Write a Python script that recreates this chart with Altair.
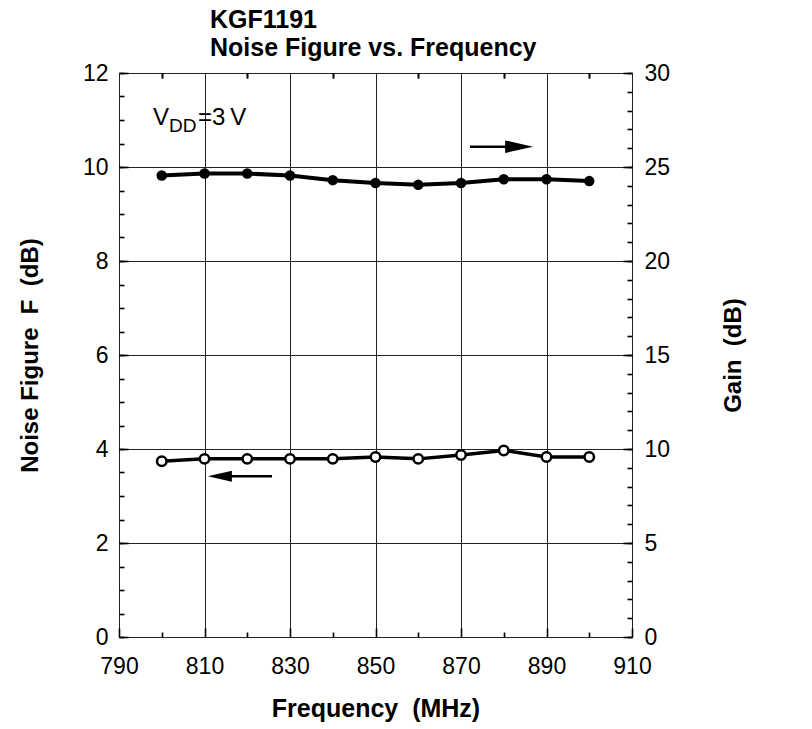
import altair as alt
import pandas as pd

# ---- data ----
freq = [800, 810, 820, 830, 840, 850, 860, 870, 880, 890, 900]
gain_db = [24.55, 24.65, 24.65, 24.55, 24.3, 24.15, 24.05, 24.15, 24.35, 24.35, 24.25]
nf_db = [3.74, 3.79, 3.79, 3.79, 3.79, 3.83, 3.79, 3.87, 3.97, 3.83, 3.83]

x_major = [790, 810, 830, 850, 870, 890, 910]
x_minor = [800, 820, 840, 860, 880, 900]
nf_major = [0, 2, 4, 6, 8, 10, 12]
nf_minor = [i * 0.5 for i in range(25)]
gain_major = [0, 5, 10, 15, 20, 25, 30]
gain_minor = list(range(31))

title_lines = ["KGF1191", "Noise Figure vs. Frequency"]

# arrows: left one in NF units, right one in gain units
arrow_left = {"x1": 825.8, "x2": 815.0, "tip": 813.6, "y": 3.42}
arrow_right = {"x1": 872.1, "x2": 882.0, "tip": 883.6, "y": 26.08}

df = pd.DataFrame({"freq": freq, "gain": gain_db, "nf": nf_db})

FONT = "Liberation Sans"
NB = "\u00a0"
XDOM = [790, 910]
NFDOM = [0, 12]
GDOM = [0, 30]


def xs(axis, field="freq"):
    return alt.X(f"{field}:Q", scale=alt.Scale(domain=XDOM, nice=False, zero=False), axis=axis)


def ys(field, dom, axis):
    return alt.Y(f"{field}:Q", scale=alt.Scale(domain=dom, nice=False, zero=False), axis=axis)


def tick_axis(orient, values, size):
    return alt.Axis(orient=orient, values=values, offset=-size, tickSize=size, tickWidth=1.6,
                    tickColor="black", labels=False, domain=False, grid=False, title=None)


base = alt.Chart(df)

gain_line = base.mark_line(color="black", strokeWidth=4).encode(
    x=xs(alt.Axis(orient="bottom", values=x_major, format="d", tickSize=0, domain=False,
                  grid=True, gridColor="#222", gridWidth=1, labelPadding=18, labelFlush=False,
                  labelFont=FONT, labelFontSize=23, labelColor="black",
                  title=f"Frequency{NB}{NB}(MHz)", titleFont=FONT, titleFontSize=25,
                  titleFontWeight="bold", titleColor="black", titlePadding=18)),
    y=ys("gain", GDOM, alt.Axis(orient="right", values=gain_major, tickSize=0, domain=False,
                               grid=False, labelPadding=12, labelFlush=False, labelFont=FONT,
                               labelFontSize=23, labelColor="black", title=f"Gain{NB}{NB}(dB)",
                               titleFont=FONT, titleFontSize=24, titleFontWeight="bold",
                               titleColor="black", titleAngle=270, titlePadding=76)),
)

gain_pts = base.mark_point(filled=True, color="black", size=110, opacity=1).encode(
    x=xs(tick_axis("bottom", x_major, 9)),
    y=ys("gain", GDOM, tick_axis("right", gain_major, 9)),
)

nf_line = base.mark_line(color="black", strokeWidth=3.5).encode(
    x=xs(tick_axis("top", x_minor, 5)),
    y=ys("nf", NFDOM, alt.Axis(orient="left", values=nf_major, tickSize=0, domain=False,
                              grid=True, gridColor="#222", gridWidth=1, labelPadding=11,
                              labelFlush=False, labelFont=FONT, labelFontSize=23,
                              labelColor="black",
                              title=f"Noise Figure{NB}{NB}F{NB}{NB}(dB)", titleFont=FONT,
                              titleFontSize=24, titleFontWeight="bold", titleColor="black",
                              titlePadding=40)),
)

nf_pts = base.mark_point(filled=True, fill="white", stroke="black", strokeWidth=2.5,
                         size=90, opacity=1).encode(
    x=xs(tick_axis("bottom", x_minor, 5)),
    y=ys("nf", NFDOM, tick_axis("left", nf_major, 9)),
)

arrow_rule_l = alt.Chart(pd.DataFrame([arrow_left])).mark_rule(color="black", strokeWidth=2.5).encode(
    x=xs(tick_axis("top", x_minor, 5), "x1"),
    x2="x2:Q",
    y=ys("y", NFDOM, tick_axis("left", nf_minor, 5)),
)
arrow_rule_r = alt.Chart(pd.DataFrame([arrow_right])).mark_rule(color="black", strokeWidth=2.5).encode(
    x=xs(None, "x1"),
    x2="x2:Q",
    y=ys("y", GDOM, tick_axis("right", gain_minor, 5)),
)

head_l = alt.Chart(pd.DataFrame([arrow_left])).mark_point(
    shape="M -1 0 L 1 -0.45 L 1 0.45 Z", filled=True, color="black", size=576, opacity=1
).encode(
    x=xs(None, "tip"),
    y=ys("y", NFDOM, None),
)
head_r = alt.Chart(pd.DataFrame([arrow_right])).mark_point(
    shape="M 1 0 L -1 -0.45 L -1 0.45 Z", filled=True, color="black", size=784, opacity=1
).encode(
    x=xs(None, "tip"),
    y=ys("y", GDOM, None),
)

one = alt.Data(values=[{}])


def label(text, x, y, size, weight="normal"):
    return alt.Chart(one).mark_text(align="left", baseline="alphabetic", font=FONT,
                                    fontSize=size, fontWeight=weight, color="black").encode(
        x=alt.value(x), y=alt.value(y), text=alt.value(text))


t_v = label("V", 34, 52, 24)
t_dd = label("DD", 50, 59, 19)
t_eq = label("=3\u2009V", 79, 52, 24)
t_title1 = label(title_lines[0], 91, -45, 25, "bold")
t_title2 = label(title_lines[1], 91, -17, 25, "bold")

chart = alt.layer(
    gain_line, nf_line, arrow_rule_l, arrow_rule_r, head_l, head_r, gain_pts, nf_pts,
    t_v, t_dd, t_eq, t_title1, t_title2
).resolve_scale(x="independent", y="independent").resolve_axis(
    x="independent", y="independent"
).properties(
    width=513,
    height=564,
    autosize=alt.AutoSizeParams(type="none"),
    padding={"left": 111, "top": 65, "right": 170, "bottom": 85},
).configure_view(stroke="black", strokeWidth=2.5).configure(background="white")

chart.save("out.html", embed_options={"renderer": "svg", "actions": False})
